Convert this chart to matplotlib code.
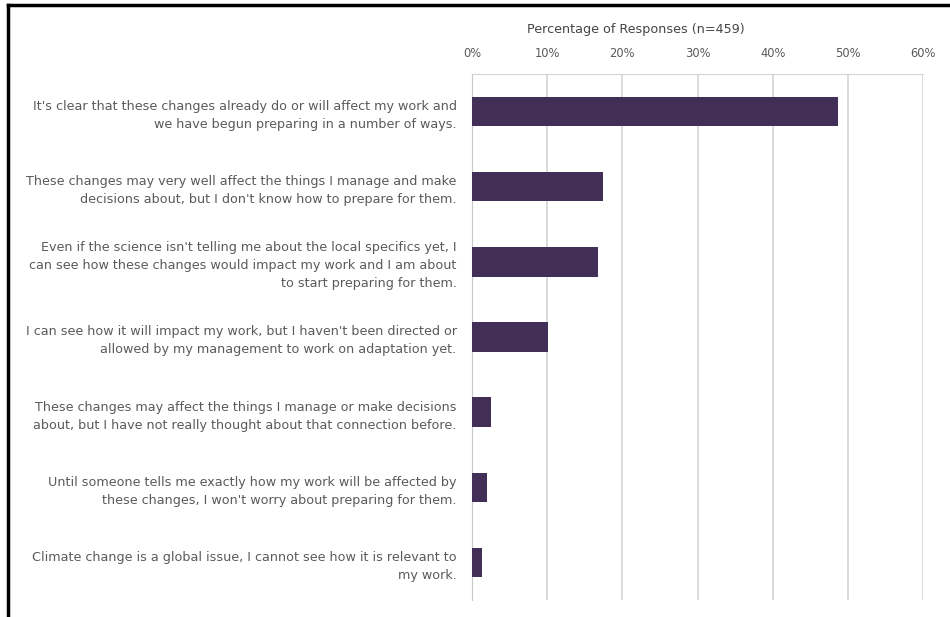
import matplotlib.pyplot as plt
import matplotlib.lines as mlines

plt.rcParams['font.family'] = ['DejaVu Sans']

labels = [
    "It's clear that these changes already do or will affect my work and\nwe have begun preparing in a number of ways.",
    "These changes may very well affect the things I manage and make\ndecisions about, but I don't know how to prepare for them.",
    "Even if the science isn't telling me about the local specifics yet, I\ncan see how these changes would impact my work and I am about\nto start preparing for them.",
    "I can see how it will impact my work, but I haven't been directed or\nallowed by my management to work on adaptation yet.",
    "These changes may affect the things I manage or make decisions\nabout, but I have not really thought about that connection before.",
    "Until someone tells me exactly how my work will be affected by\nthese changes, I won't worry about preparing for them.",
    "Climate change is a global issue, I cannot see how it is relevant to\nmy work.",
]
values = [48.7, 17.4, 16.8, 10.1, 2.5, 2.0, 1.3]
ticks = [0, 10, 20, 30, 40, 50, 60]
tick_labels = ["0%", "10%", "20%", "30%", "40%", "50%", "60%"]

fig = plt.figure(figsize=(9.5, 6.17), dpi=100)
ax = fig.add_axes([472/950, 1-600/617, (923-472)/950, (600-74)/617])

ypos = list(range(len(values)))
ax.barh(ypos, values, height=0.39, color='#412f57', zorder=3)
ax.set_ylim(len(values)-0.5, -0.5)
ax.set_xlim(0, 60)

ax.set_yticks(ypos)
ax.set_yticklabels(labels, fontsize=9.2, color='#5a5a5a', linespacing=1.5)
ax.set_xticks(ticks)
ax.set_xticklabels(tick_labels, fontsize=8.3, color='#5a5a5a')
ax.xaxis.tick_top()
ax.tick_params(axis='both', length=0)
ax.tick_params(axis='x', pad=10)
ax.tick_params(axis='y', pad=11)

ax.grid(axis='x', color='#d4d4d4', linewidth=1.2, zorder=0)
for s in ['right', 'bottom']:
    ax.spines[s].set_visible(False)
ax.spines['top'].set_color('#d4d4d4')
ax.spines['left'].set_color('#c8c8c8')

fig.text(636/950, 1-30/617, "Percentage of Responses (n=459)", ha='center', va='center',
         fontsize=9.2, color='#444444')

# black frame on top and left edges
fig.add_artist(mlines.Line2D([8/950, 8/950], [0, 1-5/617], color='black', lw=2.5))
fig.add_artist(mlines.Line2D([8/950, 1], [1-5/617, 1-5/617], color='black', lw=2.5))

fig.savefig('out.png', dpi=100)
